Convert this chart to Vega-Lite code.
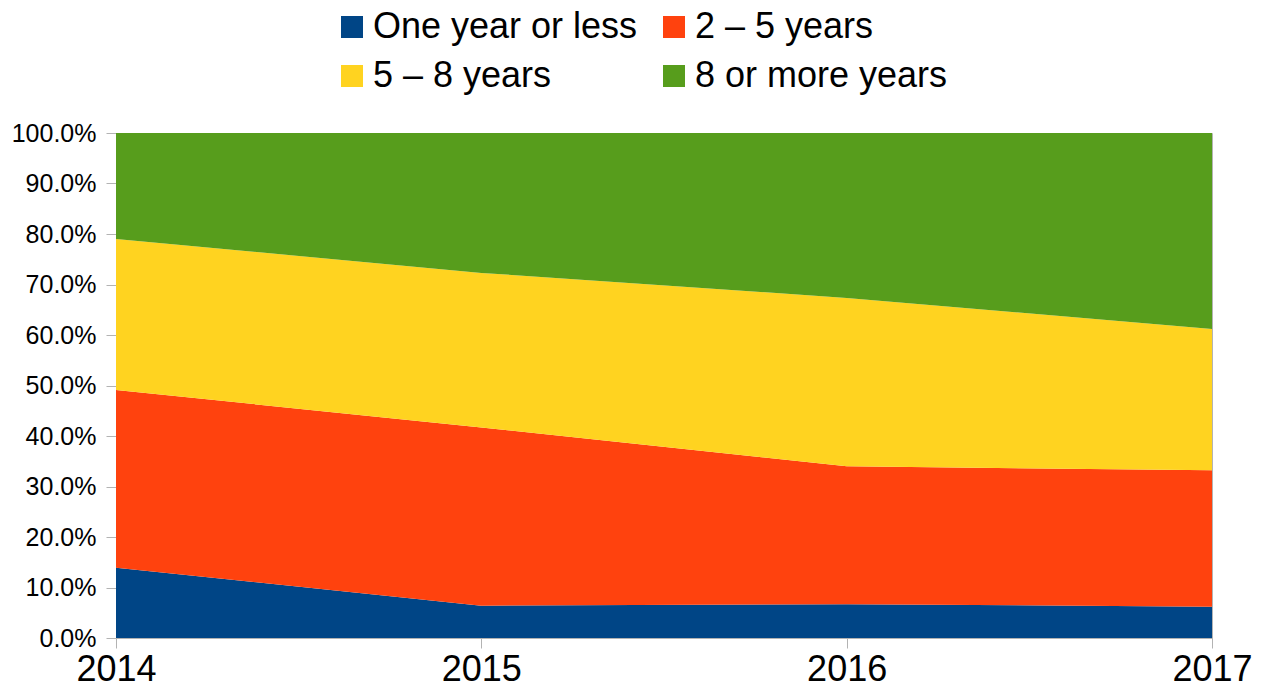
{
  "$schema": "https://vega.github.io/schema/vega-lite/v6.json",
  "autosize": {"type": "none"},
  "width": 1096,
  "height": 505,
  "padding": {"left": 116, "top": 133, "right": 51, "bottom": 57},
  "background": "white",
  "config": {
    "font": "Liberation Sans",
    "view": {"stroke": "#b3b3b3", "strokeWidth": 1},
    "axis": {"grid": false, "domainColor": "#b3b3b3", "tickColor": "#b3b3b3", "labelColor": "#000000", "labelFont": "Liberation Sans", "title": null, "tickSize": 10}
  },
  "data": {
    "values": [
      {"year": 2014, "tenure": "One year or less", "rank": 1, "pct": 13.9},
      {"year": 2014, "tenure": "2 – 5 years", "rank": 2, "pct": 35.2},
      {"year": 2014, "tenure": "5 – 8 years", "rank": 3, "pct": 29.9},
      {"year": 2014, "tenure": "8 or more years", "rank": 4, "pct": 21.0},
      {"year": 2015, "tenure": "One year or less", "rank": 1, "pct": 6.4},
      {"year": 2015, "tenure": "2 – 5 years", "rank": 2, "pct": 35.3},
      {"year": 2015, "tenure": "5 – 8 years", "rank": 3, "pct": 30.6},
      {"year": 2015, "tenure": "8 or more years", "rank": 4, "pct": 27.7},
      {"year": 2016, "tenure": "One year or less", "rank": 1, "pct": 6.7},
      {"year": 2016, "tenure": "2 – 5 years", "rank": 2, "pct": 27.3},
      {"year": 2016, "tenure": "5 – 8 years", "rank": 3, "pct": 33.35},
      {"year": 2016, "tenure": "8 or more years", "rank": 4, "pct": 32.65},
      {"year": 2017, "tenure": "One year or less", "rank": 1, "pct": 6.2},
      {"year": 2017, "tenure": "2 – 5 years", "rank": 2, "pct": 27.0},
      {"year": 2017, "tenure": "5 – 8 years", "rank": 3, "pct": 28.0},
      {"year": 2017, "tenure": "8 or more years", "rank": 4, "pct": 38.8}
    ]
  },
  "mark": {"type": "area", "opacity": 1},
  "encoding": {
    "x": {
      "field": "year", "type": "quantitative",
      "scale": {"domain": [2014, 2017], "nice": false, "zero": false},
      "axis": {"values": [2014, 2015, 2016, 2017], "format": "d", "labelFontSize": 36, "labelPadding": 4, "labelFlush": false, "labelOverlap": false}
    },
    "y": {
      "field": "pct", "type": "quantitative", "stack": "zero",
      "scale": {"domain": [0, 100], "nice": false},
      "axis": {"values": [0, 10, 20, 30, 40, 50, 60, 70, 80, 90, 100], "labelExpr": "format(datum.value, '.1f') + '%'", "labelFontSize": 25, "labelPadding": 10}
    },
    "color": {
      "field": "tenure", "type": "nominal",
      "sort": ["One year or less", "2 – 5 years", "5 – 8 years", "8 or more years"],
      "scale": {
        "domain": ["One year or less", "2 – 5 years", "5 – 8 years", "8 or more years"],
        "range": ["#004586", "#ff420e", "#ffd320", "#579d1c"]
      },
      "legend": {
        "orient": "none", "legendX": 218, "legendY": -124,
        "direction": "horizontal", "columns": 2, "title": null,
        "symbolType": "square", "symbolSize": 484, "symbolStrokeWidth": 0, "symbolOpacity": 1,
        "labelFontSize": 36, "labelColor": "#000000", "labelOffset": 3, "labelLimit": 400,
        "columnPadding": 18, "rowPadding": 13, "padding": 0
      }
    },
    "order": {"field": "rank", "type": "quantitative", "sort": "ascending"}
  }
}
